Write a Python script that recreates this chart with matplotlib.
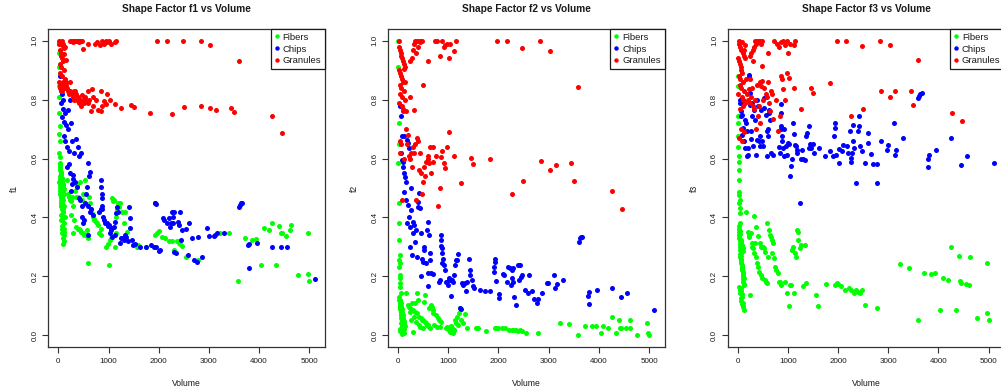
import matplotlib
matplotlib.use("Agg")
import matplotlib.pyplot as plt
from matplotlib.lines import Line2D

plt.rcParams['font.family'] = ['Liberation Sans', 'DejaVu Sans']

classes = ["Fibers", "Chips", "Granules"]
class_colors = ["#00FF00", "#0000FF", "#FF0000"]
factor_names = ["f1", "f2", "f3"]
x_ticks = [0, 1000, 2000, 3000, 4000, 5000]
x_tick_labels = ["0", "1000", "2000", "3000", "4000", "5000"]
y_ticks = [0.0, 0.2, 0.4, 0.6, 0.8, 1.0]
y_tick_labels = ["0.0", "0.2", "0.4", "0.6", "0.8", "1.0"]

# ---------------- Fibers ----------------
fibers_volume = [
    5, 8, 10, 12, 6, 15, 25, 18, 30, 22, 35, 28, 40, 32, 45, 38, 50,
    20, 25, 30, 35, 40, 45, 50, 55, 60, 65, 70, 75, 80, 85, 90, 95, 100, 105, 110, 115,
    60, 70, 80, 90, 100, 110, 120, 30, 45, 55, 65, 75, 85, 95, 105,
    40, 50, 60, 70, 80, 90, 100, 110, 120, 130, 35, 45, 55, 65, 75, 85, 95,
    165, 200, 215, 230, 245, 260, 275, 290, 300, 315, 330, 345, 360, 370, 385, 400, 410, 425, 440, 455,
    470, 490, 500, 520, 535, 545, 555, 575, 590, 600, 620, 640, 655, 675, 690, 705, 720, 750, 770, 795,
    815, 845, 860,
    950, 980, 1013, 1033, 1056, 1074, 1090, 1111, 1121, 1140, 1159, 1172, 1191, 1210, 1237, 1260, 1300, 1336, 1370,
    1560, 1590, 1750, 1936, 1969, 2001, 2066, 2131, 2214, 2266, 2314, 2360, 2396, 2428, 2474, 2545, 2780,
    3225, 3405, 3590, 3720, 3860, 3940, 4040, 4090, 4190, 4255, 4340, 4405, 4430, 4450, 4545, 4615, 4630, 4770,
    4967, 4975, 5000,
]
fibers_f1 = [
    0.99, 0.96, 0.91, 0.845, 0.81, 0.755, 0.71, 0.685, 0.66, 0.62, 0.605, 0.585, 0.57, 0.56, 0.55, 0.54, 0.53,
    0.52, 0.51, 0.50, 0.49, 0.48, 0.47, 0.46, 0.45, 0.44, 0.43, 0.52, 0.50, 0.48, 0.46, 0.44, 0.42, 0.40, 0.38, 0.36, 0.35,
    0.41, 0.39, 0.346, 0.33, 0.31, 0.32, 0.34, 0.57, 0.555, 0.545, 0.535, 0.525, 0.515, 0.505, 0.495,
    0.58, 0.50, 0.49, 0.47, 0.45, 0.43, 0.51, 0.48, 0.44, 0.40, 0.53, 0.44, 0.39, 0.37, 0.36, 0.42, 0.49,
    0.527, 0.48, 0.47, 0.46, 0.455, 0.41, 0.47, 0.346, 0.44, 0.39, 0.49, 0.47, 0.368, 0.51, 0.36, 0.47, 0.36, 0.357, 0.52, 0.35,
    0.46, 0.48, 0.346, 0.34, 0.527, 0.445, 0.34, 0.357, 0.329, 0.244, 0.47, 0.45, 0.43, 0.414, 0.40, 0.395, 0.39, 0.385, 0.38, 0.374,
    0.346, 0.34, 0.36,
    0.30, 0.31, 0.238, 0.323, 0.329, 0.465, 0.455, 0.46, 0.298, 0.346, 0.40, 0.43, 0.448, 0.437, 0.45, 0.42, 0.38, 0.42, 0.35,
    0.30, 0.308, 0.30, 0.34, 0.346, 0.354, 0.334, 0.329, 0.32, 0.32, 0.291, 0.32, 0.314, 0.31, 0.303, 0.266, 0.255,
    0.348, 0.348, 0.185, 0.329, 0.323, 0.326, 0.24, 0.363, 0.357, 0.38, 0.238, 0.37, 0.348, 0.346, 0.337, 0.357, 0.373, 0.204,
    0.346, 0.207, 0.184,
]
fibers_f2 = [
    1.0, 0.91, 0.72, 0.65, 0.585, 0.45, 0.38, 0.323, 0.272, 0.255, 0.244, 0.232, 0.204, 0.193, 0.176, 0.164, 0.142,
    0.13, 0.12, 0.11, 0.10, 0.095, 0.09, 0.085, 0.08, 0.075, 0.07, 0.065, 0.06, 0.055, 0.05, 0.045, 0.04, 0.035, 0.03, 0.025, 0.02,
    0.015, 0.01, 0.005, 0.02, 0.01, 0.03, 0.008, 0.115, 0.105, 0.095, 0.085, 0.075, 0.065, 0.055, 0.045,
    0.12, 0.11, 0.10, 0.09, 0.08, 0.07, 0.06, 0.05, 0.04, 0.03, 0.02, 0.015, 0.06, 0.04, 0.02, 0.03, 0.012,
    0.144, 0.102, 0.096, 0.091, 0.079, 0.051, 0.108, 0.011, 0.085, 0.062, 0.108, 0.079, 0.045, 0.142, 0.074, 0.119, 0.034, 0.062, 0.028, 0.057,
    0.051, 0.023, 0.051, 0.113, 0.045, 0.136, 0.04, 0.034, 0.034, 0.031, 0.091, 0.026, 0.102, 0.096, 0.085, 0.077, 0.034, 0.068, 0.028, 0.057,
    0.051, 0.028, 0.045,
    0.023, 0.028, 0.017, 0.011, 0.031, 0.023, 0.006, 0.017, 0.017, 0.051, 0.042, 0.062, 0.034, 0.074, 0.091, 0.053, 0.04, 0.071, 0.023,
    0.023, 0.025, 0.016, 0.023, 0.025, 0.025, 0.023, 0.023, 0.019, 0.017, 0.017, 0.017, 0.015, 0.017, 0.015, 0.008, 0.008,
    0.042, 0.037, 0.002, 0.031, 0.031, 0.031, 0.006, 0.031, 0.026, 0.062, 0.006, 0.051, 0.025, 0.023, 0.023, 0.023, 0.051, 0.002,
    0.04, 0.006, 0.002,
]
fibers_f3 = [
    0.879, 0.845, 0.743, 0.72, 0.677, 0.64, 0.609, 0.59, 0.561, 0.527, 0.488, 0.476, 0.459, 0.448, 0.431, 0.414, 0.38,
    0.36, 0.35, 0.34, 0.33, 0.32, 0.31, 0.30, 0.29, 0.28, 0.27, 0.26, 0.25, 0.24, 0.23, 0.22, 0.21, 0.20, 0.19, 0.18, 0.17,
    0.16, 0.15, 0.14, 0.13, 0.11, 0.10, 0.085, 0.37, 0.355, 0.345, 0.325, 0.315, 0.305, 0.295, 0.285,
    0.275, 0.265, 0.255, 0.245, 0.235, 0.225, 0.215, 0.205, 0.195, 0.175, 0.165, 0.155, 0.145, 0.125, 0.115, 0.105, 0.095,
    0.42, 0.351, 0.34, 0.332, 0.136, 0.346, 0.312, 0.30, 0.295, 0.28, 0.405, 0.312, 0.264, 0.368, 0.244, 0.337, 0.232, 0.215, 0.312, 0.204,
    0.30, 0.196, 0.30, 0.295, 0.189, 0.282, 0.181, 0.382, 0.178, 0.266, 0.357, 0.34, 0.332, 0.278, 0.323, 0.312, 0.261, 0.232, 0.221, 0.21,
    0.181, 0.18, 0.17,
    0.181, 0.144, 0.099, 0.17, 0.17, 0.289, 0.291, 0.298, 0.142, 0.278, 0.266, 0.359, 0.351, 0.323, 0.295, 0.306, 0.167, 0.306, 0.176,
    0.136, 0.10, 0.175, 0.17, 0.178, 0.173, 0.167, 0.155, 0.162, 0.153, 0.144, 0.155, 0.147, 0.144, 0.153, 0.102, 0.091,
    0.241, 0.227, 0.051, 0.212, 0.207, 0.21, 0.085, 0.195, 0.187, 0.30, 0.085, 0.269, 0.184, 0.178, 0.173, 0.17, 0.266, 0.06,
    0.244, 0.074, 0.051,
]

# ---------------- Chips ----------------
chips_volume = [
    40, 50, 60, 70, 80, 90, 100, 110, 115, 125, 135, 150, 165, 175, 185, 200, 205, 215, 225, 235,
    245, 255, 265, 275, 290, 300, 320, 340, 360, 375, 390, 405, 420, 435, 450, 465, 480, 500, 515, 525,
    560, 580, 590, 600, 615, 630, 640, 660, 700, 600,
    814, 846, 855, 860, 866, 872, 875, 880, 893, 912, 930,
    960, 990, 1009, 1023, 1042, 1055, 1074, 1100, 1121, 1139, 1159, 1172, 1190, 1237, 1256, 1271, 1302, 1335, 1354, 1380,
    1414, 1427, 1434, 1467, 1497, 1520, 1628, 1741,
    1840, 1908, 1921, 1934, 1940, 1953, 2014, 2020, 2083, 2103, 2168, 2197, 2233, 2250, 2266, 2279, 2290, 2298, 2314, 2347,
    2392, 2409, 2425, 2441, 2474, 2539, 2588, 2604, 2660, 2705, 2770, 2783, 2864, 2966, 2994, 3110, 3125, 3158, 3292,
    3600, 3620, 3640, 3665, 3785, 3800, 3805, 3960, 4255, 4445, 4560, 5105,
]
chips_f1 = [
    0.88, 0.84, 0.79, 0.82, 0.74, 0.77, 0.80, 0.725, 0.675, 0.755, 0.66, 0.715, 0.64, 0.57, 0.70, 0.765, 0.625, 0.58, 0.80, 0.55,
    0.49, 0.72, 0.66, 0.515, 0.53, 0.545, 0.62, 0.52, 0.665, 0.505, 0.64, 0.465, 0.61, 0.46, 0.62, 0.40, 0.44, 0.38, 0.39, 0.45,
    0.48, 0.505, 0.34, 0.585, 0.54, 0.555, 0.42, 0.43, 0.41, 0.44,
    0.42, 0.43, 0.527, 0.505, 0.48, 0.465, 0.44, 0.43, 0.40, 0.39, 0.38,
    0.38, 0.37, 0.374, 0.346, 0.363, 0.357, 0.334, 0.368, 0.340, 0.385, 0.414, 0.437, 0.42, 0.312, 0.33, 0.329, 0.323, 0.340, 0.334, 0.32,
    0.437, 0.397, 0.363, 0.323, 0.306, 0.31, 0.30, 0.30,
    0.306, 0.30, 0.45, 0.45, 0.445, 0.30, 0.287, 0.29, 0.397, 0.39, 0.380, 0.397, 0.368, 0.38, 0.42, 0.38, 0.40, 0.42, 0.283, 0.278,
    0.385, 0.374, 0.42, 0.323, 0.357, 0.36, 0.272, 0.38, 0.33, 0.255, 0.249, 0.334, 0.266, 0.363, 0.337, 0.337, 0.34, 0.346, 0.346,
    0.437, 0.442, 0.448, 0.448, 0.306, 0.227, 0.31, 0.312, 0.298, 0.298, 0.30, 0.19,
]
chips_f2 = [
    0.78, 0.743, 0.62, 0.675, 0.595, 0.59, 0.573, 0.55, 0.488, 0.675, 0.538, 0.52, 0.459, 0.38, 0.663, 0.652, 0.442, 0.402, 0.635, 0.368,
    0.30, 0.499, 0.425, 0.272, 0.346, 0.385, 0.374, 0.317, 0.357, 0.266, 0.453, 0.436, 0.482, 0.431, 0.346, 0.20, 0.26, 0.25, 0.30, 0.289,
    0.244, 0.357, 0.167, 0.385, 0.34, 0.278, 0.257, 0.212, 0.207, 0.21,
    0.181, 0.187, 0.34, 0.325, 0.303, 0.295, 0.278, 0.244, 0.26, 0.238, 0.22,
    0.181, 0.17, 0.189, 0.193, 0.187, 0.134, 0.187, 0.181, 0.204, 0.238, 0.257, 0.257, 0.276, 0.094, 0.09, 0.176, 0.17, 0.176, 0.151, 0.181,
    0.26, 0.221, 0.204, 0.187, 0.167, 0.16, 0.155, 0.151,
    0.151, 0.215, 0.232, 0.26, 0.247, 0.185, 0.14, 0.125, 0.207, 0.204, 0.181, 0.232, 0.227, 0.17, 0.193, 0.223, 0.181, 0.23, 0.13, 0.102,
    0.238, 0.189, 0.238, 0.198, 0.204, 0.155, 0.144, 0.204, 0.15, 0.122, 0.108, 0.122, 0.142, 0.178, 0.176, 0.206, 0.162, 0.173, 0.189,
    0.317, 0.329, 0.334, 0.334, 0.133, 0.105, 0.147, 0.155, 0.162, 0.13, 0.142, 0.085,
]
chips_f3 = [
    0.80, 0.788, 0.76, 0.743, 0.68, 0.748, 0.80, 0.703, 0.658, 0.788, 0.635, 0.731, 0.72, 0.607, 0.692, 0.635, 0.612, 0.884, 0.876, 0.782,
    0.824, 0.666, 0.692, 0.743, 0.788, 0.641, 0.765, 0.731, 0.612, 0.80, 0.663, 0.779, 0.658, 0.675, 0.641, 0.765, 0.658, 0.641, 0.805, 0.771,
    0.748, 0.692, 0.607, 0.675, 0.765, 0.754, 0.731, 0.618, 0.612, 0.70,
    0.64, 0.62, 0.785, 0.754, 0.709, 0.70, 0.675, 0.658, 0.635, 0.61, 0.70,
    0.641, 0.612, 0.652, 0.649, 0.541, 0.576, 0.60, 0.72, 0.683, 0.646, 0.641, 0.63, 0.62, 0.448, 0.60, 0.629, 0.597, 0.595, 0.675, 0.688,
    0.711, 0.637, 0.649, 0.635, 0.649, 0.62, 0.635, 0.609,
    0.624, 0.607, 0.675, 0.703, 0.72, 0.612, 0.584, 0.632, 0.624, 0.646, 0.641, 0.618, 0.692, 0.587, 0.601, 0.62, 0.714, 0.658, 0.635, 0.516,
    0.692, 0.743, 0.709, 0.643, 0.624, 0.586, 0.688, 0.654, 0.615, 0.58, 0.516, 0.58, 0.658, 0.629, 0.646, 0.722, 0.612, 0.629, 0.669,
    0.805, 0.811, 0.819, 0.824, 0.573, 0.597, 0.612, 0.629, 0.669, 0.578, 0.607, 0.584,
]

# ---------------- Granules ----------------
granules_volume = [
    20, 35, 50, 65, 80, 100, 120, 140, 25, 45, 60, 75, 90, 30, 55, 110, 40, 70, 130, 15,
    85, 105, 150, 95, 40, 60, 30, 80, 125, 115, 145, 10,
    240, 270, 300, 320, 340, 360, 380, 400, 420, 440, 460, 480, 490, 600, 310, 240,
    160, 180, 200, 220, 240, 260, 280, 300, 320, 340, 360, 380, 400, 420, 440, 450, 470, 490, 510, 530,
    560, 590, 600, 620, 645, 665, 690, 700, 760, 795, 846, 860, 880, 910, 945, 975, 1020, 1120,
    730, 780, 830, 870, 910, 945, 975, 1010, 1040, 1125, 1150,
    1254, 1455, 1498, 1835, 1970, 2165, 2262, 2478, 2500, 2838, 2850, 3027, 3032, 3143, 3445, 3498, 3593, 4267, 4463,
]
granules_f1 = [
    1.00, 0.995, 0.99, 1.00, 0.985, 0.99, 0.975, 0.98, 0.97, 0.96, 0.95, 0.94, 0.93, 0.92, 0.91, 0.90, 0.89, 0.88, 0.87, 0.86,
    0.86, 0.85, 0.85, 0.84, 0.84, 0.83, 0.85, 0.83, 0.84, 0.955, 0.935, 0.99,
    1.0, 1.0, 0.995, 1.0, 1.0, 0.998, 1.0, 1.0, 0.996, 1.0, 1.0, 0.998, 0.972, 0.99, 0.83, 0.86,
    0.86, 0.84, 0.83, 0.82, 0.83, 0.825, 0.82, 0.81, 0.80, 0.83, 0.82, 0.80, 0.81, 0.79, 0.80, 0.78, 0.815, 0.80, 0.79, 0.81,
    0.80, 0.79, 0.83, 0.80, 0.76, 0.835, 0.81, 0.78, 0.80, 0.765, 0.76, 0.83, 0.78, 0.795, 0.785, 0.82, 0.80, 0.785,
    0.99, 0.995, 0.985, 1.0, 0.99, 1.0, 0.995, 1.0, 0.99, 0.995, 1.0,
    0.771, 0.782, 0.776, 0.754, 1.0, 1.0, 0.751, 1.0, 0.774, 1.0, 0.778, 0.773, 0.987, 0.764, 0.773, 0.759, 0.932, 0.744, 0.686,
]
granules_f2 = [
    1.00, 0.97, 0.96, 0.95, 0.94, 0.93, 0.92, 0.91, 0.90, 0.89, 0.88, 0.87, 0.86, 0.85, 0.84, 0.83, 0.82, 0.81, 0.80, 0.79,
    0.78, 0.77, 0.76, 0.76, 0.66, 0.65, 0.62, 0.46, 0.60, 0.905, 0.86, 0.98,
    0.93, 0.94, 0.97, 0.99, 1.0, 0.96, 1.0, 0.98, 1.0, 0.995, 1.0, 1.0, 0.85, 0.932, 0.765, 0.81,
    0.70, 0.65, 0.68, 0.61, 0.60, 0.62, 0.57, 0.64, 0.62, 0.65, 0.46, 0.67, 0.66, 0.56, 0.62, 0.55, 0.48, 0.52, 0.57, 0.54,
    0.59, 0.61, 0.60, 0.585, 0.64, 0.55, 0.59, 0.64, 0.61, 0.44, 0.50, 0.605, 0.625, 0.585, 0.567, 0.64, 0.69, 0.607,
    1.0, 1.0, 0.947, 1.0, 0.98, 0.986, 0.99, 0.94, 0.99, 0.966, 1.0,
    0.518, 0.603, 0.582, 0.599, 1.0, 1.0, 0.481, 0.974, 0.524, 1.0, 0.591, 0.562, 0.964, 0.578, 0.586, 0.525, 0.842, 0.490, 0.430,
]
granules_f3 = [
    1.00, 0.99, 0.98, 0.97, 0.995, 0.96, 0.95, 0.94, 0.93, 0.92, 0.91, 0.90, 0.89, 0.88, 0.87, 0.86, 0.85, 0.84, 0.83, 0.82,
    0.81, 0.80, 0.79, 0.78, 0.77, 0.70, 0.67, 0.66, 0.69, 0.97, 0.985, 0.94,
    0.95, 0.96, 0.97, 0.98, 1.0, 0.99, 1.0, 0.995, 1.0, 1.0, 0.99, 1.0, 0.915, 0.96, 0.93, 0.87,
    0.87, 0.82, 0.80, 0.835, 0.79, 0.81, 0.84, 0.78, 0.77, 0.80, 0.70, 0.85, 0.745, 0.78, 0.86, 0.72, 0.845, 0.865, 0.80, 0.84,
    0.82, 0.81, 0.86, 0.79, 0.76, 0.83, 0.82, 0.735, 0.80, 0.695, 0.745, 0.88, 0.87, 0.835, 0.80, 0.89, 0.875, 0.84,
    1.0, 0.99, 0.98, 0.995, 1.0, 0.985, 1.0, 0.96, 0.99, 0.985, 1.0,
    0.768, 0.839, 0.824, 0.856, 1.0, 1.0, 0.744, 0.983, 0.770, 1.0, 0.831, 0.808, 0.984, 0.831, 0.831, 0.782, 0.934, 0.756, 0.729,
]

volumes = [fibers_volume, chips_volume, granules_volume]
factors = {
    "f1": [fibers_f1, chips_f1, granules_f1],
    "f2": [fibers_f2, chips_f2, granules_f2],
    "f3": [fibers_f3, chips_f3, granules_f3],
}

W, H = 1001, 389
fig = plt.figure(figsize=(W / 100, H / 100), dpi=100)
fig.patch.set_facecolor("white")

text_color = "#1a1a1a"
frame_color = "#333333"

for k, name in enumerate(factor_names):
    left = 48.3 + 339.7 * k
    ax = fig.add_axes([left / W, (H - 347) / H, 276.5 / W, 318 / H])
    for vol, vals, color in zip(volumes, factors[name], class_colors):
        ax.scatter(vol, vals, s=13, c=color, linewidths=0, zorder=3)
    ax.set_xlim(-200, 5310)
    ax.set_ylim(-0.04, 1.04)
    ax.set_xticks(x_ticks, labels=x_tick_labels)
    ax.set_yticks(y_ticks, labels=y_tick_labels, rotation=90, va="center")
    ax.tick_params(direction="out", length=4, width=0.8, colors=frame_color,
                   labelsize=5.8, labelcolor=text_color)
    ax.tick_params(axis="x", pad=4)
    ax.tick_params(axis="y", pad=3)
    for sp in ax.spines.values():
        sp.set_color(frame_color)
        sp.set_linewidth(0.9)
    ax.set_title(f"Shape Factor {name} vs Volume", fontsize=7.3, fontweight="bold",
                 color=text_color, pad=12)
    ax.set_xlabel("Volume", fontsize=6.2, color=text_color)
    ax.xaxis.set_label_coords(0.5, -0.10)
    ax.set_ylabel(name, fontsize=6.2, color=text_color)
    ax.yaxis.set_label_coords(-0.105, 0.5)

    handles = [Line2D([], [], marker="o", ls="none", color=c, markersize=3.2,
                      markeredgewidth=0) for c in class_colors]
    leg = ax.legend(handles, classes, loc="upper right", bbox_to_anchor=(1, 1),
                    borderaxespad=0, fancybox=False, edgecolor=text_color,
                    framealpha=1, fontsize=6.8, handlelength=0.5,
                    handletextpad=0.35, borderpad=0.4, labelspacing=0.3)
    leg.get_frame().set_linewidth(0.9)
    for t in leg.get_texts():
        t.set_color(text_color)

fig.savefig("out.png", dpi=100)
